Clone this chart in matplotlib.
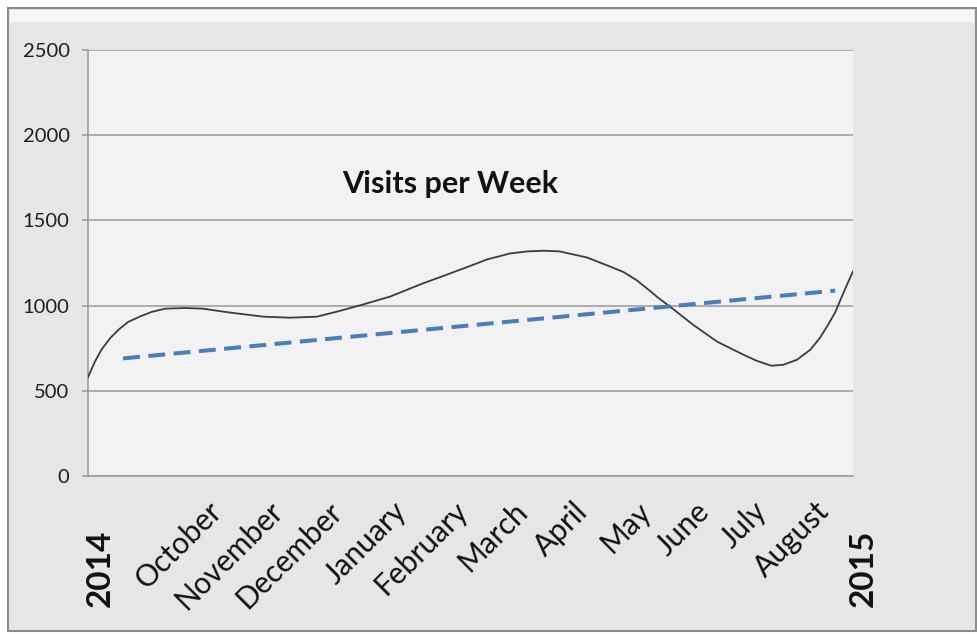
import matplotlib

matplotlib.use("Agg")
import matplotlib.pyplot as plt
from matplotlib.patches import Rectangle

# months since start of Sept 2014 (axis runs 0 -> 12)
visits_x = [0.00, 0.11, 0.21, 0.35, 0.48, 0.63, 0.82, 1.00, 1.21, 1.52, 1.80, 2.23,
            2.75, 3.17, 3.59, 3.91, 4.31, 4.74, 5.21, 5.63, 5.99, 6.26, 6.62, 6.89,
            7.15, 7.40, 7.83, 8.19, 8.40, 8.61, 8.82, 8.93, 9.13, 9.49, 9.87, 10.07,
            10.28, 10.49, 10.72, 10.91, 11.12, 11.33, 11.48, 11.61, 11.72, 11.85,
            11.93, 12.00]
visits_y = [581, 672, 741, 810, 859, 904, 937, 963, 982, 986, 982, 959,
            935, 929, 935, 965, 1006, 1053, 1124, 1182, 1232, 1271, 1306, 1318,
            1322, 1318, 1282, 1229, 1197, 1148, 1085, 1050, 994, 888, 788, 751,
            712, 676, 647, 653, 682, 741, 810, 888, 960, 1075,
            1143, 1200]

trend_x = [0.55, 11.72]
trend_y = [690, 1088]

month_labels = ["October", "November", "December", "January", "February", "March",
                "April", "May", "June", "July", "August"]
month_pos = [1.88, 2.82, 3.76, 4.78, 5.73, 6.67, 7.61, 8.61, 9.52, 10.43, 11.40]
year_labels = ["2014", "2015"]
year_pos = [0, 12]
yticks = [0, 500, 1000, 1500, 2000, 2500]

plt.rcParams["font.family"] = ["Lato", "DejaVu Sans"]

fig = plt.figure(figsize=(9.78, 6.34), dpi=100)
fig.patch.set_facecolor("white")

# chart frame
W, H = 978, 634
fig.patches.append(Rectangle((8 / W, 3 / H), 968 / W, 623 / H, transform=fig.transFigure,
                             facecolor="#e6e6e6", edgecolor="#8c8c8c", lw=1.5, zorder=-10))
fig.patches.append(Rectangle((10 / W, 612 / H), 964 / W, 12 / H, transform=fig.transFigure,
                             facecolor="#f7f7f7", edgecolor="none", zorder=-9))

ax = fig.add_axes([88 / W, (H - 476) / H, 765 / W, 426 / H])
ax.set_facecolor("#f2f2f2")

ax.plot(visits_x, visits_y, color="#3c3c3c", lw=1.3, solid_joinstyle="round", zorder=3)
ax.plot(trend_x, trend_y, color="#4a7ebb", lw=2.9, dashes=(4.2, 2.1),
        dash_capstyle="butt", zorder=4)

ax.set_xlim(0, 12)
ax.set_ylim(0, 2500)
ax.set_yticks(yticks)
ax.yaxis.grid(True, color="#999999", lw=1.1)
ax.set_axisbelow(True)
for s in ["top", "right"]:
    ax.spines[s].set_visible(False)
for s in ["left", "bottom"]:
    ax.spines[s].set_color("#999999")
    ax.spines[s].set_linewidth(1.1)

ax.tick_params(axis="y", length=4.3, color="#999999", width=1.1, pad=9,
               labelsize=14.5, labelcolor="#1e1e1e")
ax.set_xticks(month_pos)
ax.set_xticklabels(month_labels, rotation=45, ha="right", va="top",
                   rotation_mode="anchor", fontsize=21.5, color="#111111")
ax.tick_params(axis="x", length=0, pad=15)

offsets = [12, 10]
for lab, xp, off in zip(year_labels, year_pos, offsets):
    ax.annotate(lab, xy=(xp, 0), xycoords=("data", "axes fraction"),
                xytext=(off, -131), textcoords="offset pixels", rotation=90,
                ha="center", va="bottom", fontsize=24, fontweight="bold",
                color="#111111", annotation_clip=False)

ax.text(0.473, 0.685, "Visits per Week", transform=ax.transAxes, ha="center",
        va="center", fontsize=22, fontweight="bold", color="#111111")

fig.savefig("out.png", dpi=100)
